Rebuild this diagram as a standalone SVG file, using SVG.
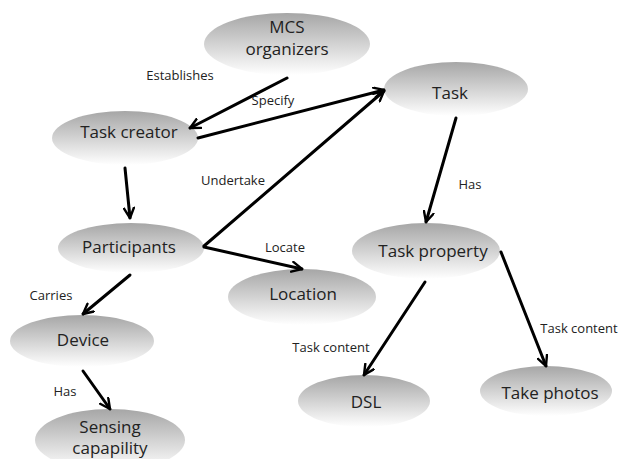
<svg xmlns="http://www.w3.org/2000/svg" width="619" height="459" viewBox="0 0 619 459">
<defs>
<linearGradient id="g" x1="0" y1="0" x2="0" y2="1">
<stop offset="0" stop-color="#a6a6a6"/>
<stop offset="1" stop-color="#ffffff"/>
</linearGradient>
<marker id="ah" viewBox="0 0 12 12" refX="11" refY="6" markerWidth="12" markerHeight="12" markerUnits="userSpaceOnUse" orient="auto">
<path d="M1,1 L11,6 L1,11" fill="none" stroke="#000" stroke-width="2.4" stroke-linecap="round" stroke-linejoin="round"/>
</marker>
</defs>
<style>
ellipse{fill:url(#g);}
.n{font-family:"Open Sans","Noto Sans",sans-serif;font-size:17px;fill:#222;text-anchor:middle;}
.l{font-family:"Open Sans","Noto Sans",sans-serif;font-size:13px;fill:#222;text-anchor:middle;}
.e line{stroke:#000;stroke-width:3;marker-end:url(#ah);stroke-linecap:round;}
</style>
<rect width="619" height="459" fill="#fff"/>
<g id="mcs"><ellipse cx="287" cy="44" rx="83" ry="31"/><text class="n" x="287" y="33">MCS</text><text class="n" x="287" y="55">organizers</text></g>
<g id="taskcreator"><ellipse cx="125" cy="138" rx="73" ry="27"/><text class="n" x="129" y="138">Task creator</text></g>
<g id="task"><ellipse cx="456" cy="89" rx="72" ry="27"/><text class="n" x="450" y="99">Task</text></g>
<g id="taskproperty"><ellipse cx="426" cy="251" rx="74" ry="28"/><text class="n" x="433" y="257">Task property</text></g>
<g id="participants"><ellipse cx="131" cy="248" rx="73" ry="25"/><text class="n" x="129" y="253">Participants</text></g>
<g id="location"><ellipse cx="302" cy="297" rx="74" ry="28"/><text class="n" x="303" y="300">Location</text></g>
<g id="device"><ellipse cx="82" cy="341" rx="72" ry="26"/><text class="n" x="83" y="346">Device</text></g>
<g id="sensing"><ellipse cx="110" cy="440" rx="75" ry="31"/><text class="n" x="110" y="433">Sensing</text><text class="n" x="110" y="454">capapility</text></g>
<g id="dsl"><ellipse cx="364" cy="401" rx="66" ry="26"/><text class="n" x="366" y="408">DSL</text></g>
<g id="takephotos"><ellipse cx="546" cy="391" rx="66" ry="25"/><text class="n" x="550" y="399">Take photos</text></g>
<g id="connectors" class="e">
<line x1="287" y1="78" x2="190" y2="128"/>
<line x1="198" y1="138" x2="384" y2="90"/>
<line x1="204" y1="246" x2="384" y2="91"/>
<line x1="125" y1="168" x2="130" y2="218"/>
<line x1="204" y1="247" x2="302" y2="269"/>
<line x1="130" y1="275" x2="83" y2="314"/>
<line x1="83" y1="371" x2="110" y2="409"/>
<line x1="456" y1="118" x2="426" y2="222"/>
<line x1="425" y1="282" x2="364" y2="375"/>
<line x1="501" y1="252" x2="546" y2="366"/>
</g>
<g id="labels">
<text class="l" x="180" y="80">Establishes</text>
<text class="l" x="273" y="105">Specify</text>
<text class="l" x="233" y="185">Undertake</text>
<text class="l" x="285" y="252">Locate</text>
<text class="l" x="51" y="300">Carries</text>
<text class="l" x="65" y="396">Has</text>
<text class="l" x="470" y="189">Has</text>
<text class="l" x="331" y="352">Task content</text>
<text class="l" x="579" y="333">Task content</text>
</g>
</svg>
